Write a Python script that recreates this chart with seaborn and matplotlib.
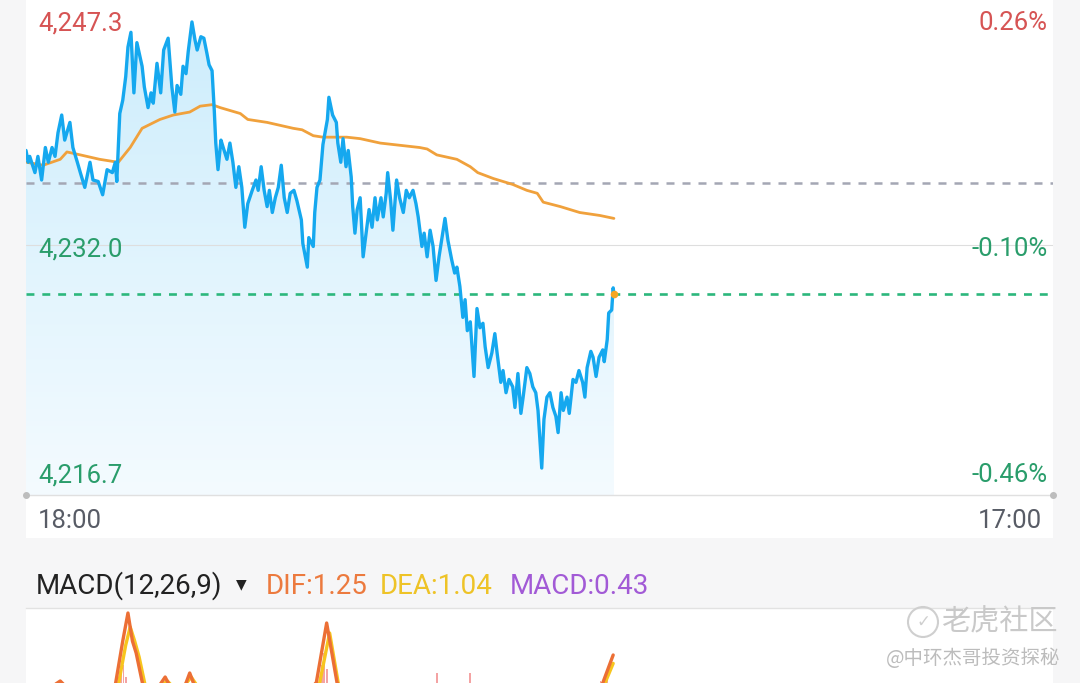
import numpy as np
import pandas as pd
import seaborn as sns
import matplotlib.pyplot as plt
from matplotlib.colors import LinearSegmentedColormap
from matplotlib.patches import Rectangle, Ellipse
from matplotlib.transforms import blended_transform_factory, offset_copy

# minutes after 18:00 and last price
minutes = [0, 3, 5, 12, 16, 21, 26, 30, 35, 39, 43, 48, 52, 59, 63, 69, 73, 79, 86, 90,
           97, 103, 109, 116, 120, 122, 126, 130, 134, 137, 141, 145, 149, 156, 159, 164, 168, 171, 176, 181,
           185, 191, 196, 200, 203, 208, 211, 215, 218, 223, 227, 230, 235, 239, 243, 246, 250, 253, 255, 258,
           262, 265, 270, 274, 278, 282, 286, 290, 294, 298, 304, 309, 312, 316, 320, 324, 327, 331, 335, 339,
           343, 347, 351, 355, 360, 364, 370, 372, 378, 380, 386, 388, 391, 395, 399, 405, 407, 412, 417, 419,
           423, 426, 430, 433, 437, 439, 442, 445, 449, 453, 457, 461, 465, 469, 472, 477, 480, 484, 486, 490,
           493, 496, 498, 502, 507, 511, 515, 520, 524, 527, 532, 535, 539, 543, 547, 551, 555, 560, 563, 567,
           572, 576, 579, 583, 587, 590, 593, 597, 602, 606, 610, 614, 617, 621, 626, 630, 633, 638, 641, 645,
           649, 654, 657, 661, 665, 668, 673, 677, 681, 685, 688, 693, 696, 700, 704, 708, 712, 715, 719, 722,
           727, 730, 735, 739, 743, 748, 751, 754, 759, 762, 766, 770, 775, 777, 781, 783, 787, 789, 790]
price = [4238.4, 4237.6, 4238.0, 4236.9, 4238.0, 4236.4, 4238.6, 4237.6, 4238.6, 4238.0,
         4239.6, 4240.8, 4239.1, 4240.3, 4238.6, 4237.6, 4236.9, 4235.9, 4237.6, 4236.4,
         4236.3, 4235.4, 4237.1, 4236.9, 4237.6, 4236.3, 4240.9, 4241.8, 4243.4, 4245.4,
         4246.4, 4242.3, 4245.7, 4244.1, 4242.7, 4241.3, 4242.3, 4241.6, 4244.3, 4242.3,
         4245.2, 4246.0, 4242.7, 4241.0, 4242.8, 4242.2, 4244.1, 4243.6, 4245.1, 4247.1,
         4245.9, 4245.2, 4246.1, 4246.0, 4245.0, 4244.2, 4243.8, 4241.1, 4238.9, 4237.1,
         4239.1, 4238.6, 4237.8, 4238.9, 4237.6, 4235.9, 4237.3, 4235.9, 4233.2, 4234.8,
         4235.7, 4236.4, 4235.7, 4237.3, 4235.7, 4234.6, 4235.7, 4234.2, 4235.2, 4235.9,
         4237.4, 4235.2, 4234.2, 4235.5, 4235.7, 4235.0, 4233.7, 4232.1, 4230.5, 4232.5,
         4231.9, 4234.2, 4235.9, 4236.4, 4238.8, 4240.5, 4242.0, 4240.8, 4240.3, 4238.9,
         4237.6, 4239.2, 4237.3, 4238.4, 4236.6, 4234.6, 4232.8, 4234.4, 4235.2, 4231.2,
         4232.8, 4234.4, 4233.2, 4235.2, 4233.7, 4235.2, 4233.9, 4235.5, 4236.9, 4235.0,
         4233.0, 4235.0, 4236.4, 4235.2, 4234.2, 4235.7, 4235.2, 4235.7, 4234.8, 4233.9,
         4231.9, 4232.8, 4231.2, 4233.0, 4231.9, 4229.6, 4231.2, 4232.8, 4233.8, 4232.3,
         4231.0, 4230.1, 4230.5, 4229.2, 4227.1, 4228.3, 4226.2, 4226.8, 4223.1, 4227.7,
         4226.4, 4226.7, 4225.1, 4223.7, 4224.7, 4226.0, 4224.7, 4222.7, 4223.5, 4222.0,
         4222.9, 4222.4, 4221.0, 4223.3, 4220.6, 4221.7, 4223.7, 4223.3, 4222.4, 4222.0,
         4220.8, 4216.9, 4220.2, 4221.7, 4222.0, 4221.0, 4220.4, 4219.3, 4222.0, 4220.8,
         4221.7, 4220.6, 4222.9, 4222.7, 4223.5, 4222.7, 4221.7, 4223.7, 4224.8, 4224.4,
         4223.1, 4224.4, 4224.9, 4224.1, 4225.6, 4227.4, 4227.6, 4229.1, 4228.7]

avg_minutes = [1, 23, 46, 55, 73, 99, 124, 140, 156, 180, 198, 220, 234, 250, 261, 288, 298, 324, 359, 371,
               386, 399, 431, 449, 476, 529, 539, 552, 579, 597, 607, 628, 654, 673, 687, 695, 718, 744, 771, 790]
avg_price = [4237.6, 4237.4, 4237.8, 4238.3, 4238.1, 4237.8, 4237.6, 4238.6, 4239.9, 4240.5,
             4240.8, 4241.0, 4241.4, 4241.5, 4241.3, 4240.9, 4240.5, 4240.3, 4239.9, 4239.8,
             4239.4, 4239.3, 4239.3, 4239.2, 4238.9, 4238.6, 4238.5, 4238.1, 4237.8, 4237.3,
             4236.9, 4236.5, 4236.1, 4235.7, 4235.5, 4234.9, 4234.6, 4234.2, 4234.0, 4233.8]

prev_close = 4236.2
axis_max, axis_mid, axis_min = 4247.3, 4232.0, 4216.7
session_minutes = 1380
time_labels = ['18:00', '17:00']

dif_minutes = [0, 30, 46, 62, 100, 120, 130, 137, 143, 148, 157, 176, 187, 198, 208, 220, 232, 260, 300, 350,
               390, 404, 418, 440, 470, 540, 600, 650, 700, 740, 775, 789]
dif_values = [0.2, 0.4, 0.6, 0.3, 0.1, 0.5, 1.6, 2.3, 1.6, 1.3, 0.5, 0.4, 0.7, 0.3, 0.2, 0.8, 0.2, -0.3, -0.5, 0.0,
              0.55, 2.05, 0.55, 0.1, -0.2, -0.3, -1.0, -1.2, -0.8, -0.3, 0.55, 1.25]
dea_minutes = [0, 60, 110, 124, 134, 140, 146, 152, 160, 176, 190, 205, 222, 240, 300, 350, 394, 408, 420,
               450, 540, 600, 700, 750, 778, 789]
dea_values = [0.1, 0.3, 0.2, 0.5, 1.5, 1.95, 1.6, 1.2, 0.5, 0.4, 0.6, 0.3, 0.7, 0.2, -0.3, -0.2, 0.5, 1.8, 0.5,
              0.0, -0.2, -0.8, -0.7, -0.2, 0.55, 1.04]
hist_minutes = [46, 128, 131, 134, 250, 398, 401, 404, 552, 597, 772, 781]
hist_values = [0.5, 0.8, 1.0, 0.7, 0.55, 1.0, 1.3, 0.9, 0.8, 0.8, 0.6, 0.75]
macd_header = {'DIF': 1.25, 'DEA': 1.04, 'MACD': 0.43}

red = '#d65454'
green = '#2a9d6b'

sns.set_theme(style='white')
plt.rcParams['font.family'] = ['Roboto', 'Noto Sans CJK SC', 'DejaVu Sans']

W, H = 1080, 683
fig = plt.figure(figsize=(W / 100, H / 100), dpi=100, facecolor='#f6f6f7')

def fx(px):
    return px / W

def fy(py):
    return 1 - py / H

fig.patches.append(Rectangle((fx(26), fy(538)), 1027 / W, 538 / H, transform=fig.transFigure,
                             facecolor='white', edgecolor='none', zorder=-5))

# price panel
ax = fig.add_axes([fx(26), fy(495), 1027 / W, 495 / H])
ax.set_facecolor('none')
span = axis_max - axis_min
ylo = axis_min - span * 24 / 452
yhi = axis_max + span * 19 / 452

df = pd.DataFrame({'t': minutes, 'p': price})
df_avg = pd.DataFrame({'t': avg_minutes, 'p': avg_price})

fill = ax.fill_between(df['t'], df['p'], ylo, facecolor='none', edgecolor='none')
grad = np.linspace(0, 1, 256).reshape(-1, 1)
cmap = LinearSegmentedColormap.from_list('fade', ['#f4fbff', '#cdedfc'])
im = ax.imshow(grad, extent=[0, minutes[-1], ylo, axis_max], origin='lower', aspect='auto',
               cmap=cmap, zorder=1, interpolation='bicubic')
im.set_clip_path(fill.get_paths()[0], transform=ax.transData)

ax.axhline(axis_mid, color='#dedede', lw=0.8, zorder=2)
ax.axhline(prev_close, color='#a4a7b4', lw=1.8, dashes=(3.2, 3.2), zorder=2)
ax.axhline(price[-1], color='#2cb77c', lw=1.9, dashes=(3.0, 3.0), zorder=2)

sns.lineplot(data=df_avg, x='t', y='p', ax=ax, color='#f0a13c', lw=2.0, zorder=3)
sns.lineplot(data=df, x='t', y='p', ax=ax, color='#15a8ef', lw=2.4, zorder=4)
ax.scatter([minutes[-1]], [price[-1]], s=30, color='#f5a623', zorder=6, linewidths=0)

ax.set_xlim(0, session_minutes)
ax.set_ylim(ylo, yhi)
ax.set_xlabel('')
ax.set_ylabel('')
ax.set_xticks([])
ax.set_yticks([])
for s in ['top', 'left', 'right']:
    ax.spines[s].set_visible(False)
ax.spines['bottom'].set_color('#e0e0e0')
ax.spines['bottom'].set_linewidth(1.0)
ax.plot([0, 1], [0, 0], 'o', ms=4, color='#bdbdbd', transform=ax.transAxes, clip_on=False, zorder=5)

tr = offset_copy(blended_transform_factory(ax.transAxes, ax.transData), fig=fig, y=-4, units='dots')
for v, c in [(axis_max, red), (axis_mid, green), (axis_min, green)]:
    ax.text(12 / 1027, v, f'{v:,.1f}', color=c, fontsize=18.5, ha='left', va='center', transform=tr)
    pct = (v / prev_close - 1) * 100
    ax.text(1 - 5 / 1027, v, f'{pct:.2f}%', color=c, fontsize=18.5, ha='right', va='center', transform=tr)

fig.text(fx(38), fy(521), time_labels[0], color='#585c66', fontsize=18.5, ha='left', va='center')
fig.text(fx(1042), fy(521), time_labels[1], color='#585c66', fontsize=18.5, ha='right', va='center')

# MACD panel
ax2 = fig.add_axes([fx(26), fy(758), 1027 / W, 150 / H])
ax2.set_facecolor('white')
ax2.bar(hist_minutes, hist_values, width=2.5, color='#f4a3a3', edgecolor='none', zorder=1)
sns.lineplot(x=dif_minutes, y=dif_values, ax=ax2, color='#ec6f35', lw=2.4, zorder=3)
sns.lineplot(x=dea_minutes, y=dea_values, ax=ax2, color='#f7c51e', lw=2.4, zorder=2)
ax2.set_xlim(0, session_minutes)
ax2.set_ylim(-1.325, 2.425)
ax2.set_xticks([])
ax2.set_yticks([])
for s in ['bottom', 'left', 'right']:
    ax2.spines[s].set_visible(False)
ax2.spines['top'].set_color('#e2e2e2')
ax2.spines['top'].set_linewidth(1.0)

fig.text(fx(36), fy(586), 'MACD(12,26,9)', color='#222222', fontsize=20, ha='left', va='center')
fig.text(fx(236), fy(584), '▼', color='#222222', fontsize=10, ha='left', va='center',
         family=['DejaVu Sans'])
fig.text(fx(266), fy(586), f"DIF:{macd_header['DIF']:.2f}", color='#ec7a3e', fontsize=20, ha='left', va='center')
fig.text(fx(380), fy(586), f"DEA:{macd_header['DEA']:.2f}", color='#eec327', fontsize=20, ha='left', va='center')
fig.text(fx(510), fy(586), f"MACD:{macd_header['MACD']:.2f}", color='#a25ad6', fontsize=20, ha='left', va='center')

# watermark
fig.add_artist(Ellipse((fx(923), fy(622)), 30 / W, 30 / H, transform=fig.transFigure,
                       facecolor='none', edgecolor='#cfcfcf', lw=1.5))
fig.text(fx(923), fy(622), '✓', color='#cfcfcf', fontsize=12, ha='center', va='center', family=['DejaVu Sans'])
fig.text(fx(1058), fy(622), '老虎社区', color='#c9c9c9', fontsize=21, ha='right', va='center',
         family=['Noto Sans CJK SC'])
fig.text(fx(1060), fy(658), '@中环杰哥投资探秘', color='#bcbcbc', fontsize=14, ha='right', va='center',
         family=['Noto Sans CJK SC'])

fig.savefig('out.png', dpi=100, facecolor=fig.get_facecolor())
